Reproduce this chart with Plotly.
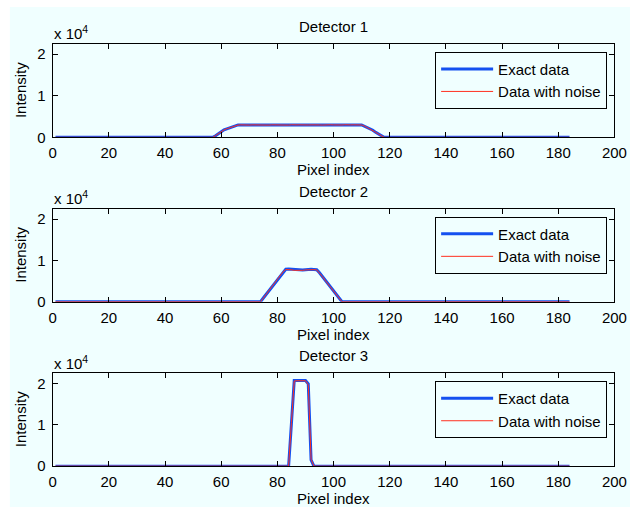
import plotly.graph_objects as go

# ---------------- data ----------------
det1_x_exact = [1, 57, 58, 59, 60, 61, 62, 63, 64, 65, 66, 110, 111, 112, 113, 114, 115, 116, 117, 118, 184]
det1_y_exact = [0, 0, 400, 900, 1400, 1800, 2050, 2300, 2550, 2800, 2980, 2980, 2700, 2400, 2050, 1700, 1200, 800, 350, 0, 0]

det1_x_noise = [1] + list(range(57, 119)) + [184]
det1_y_noise = [0,
                0, 420, 880, 1420, 1780, 2070, 2280, 2570, 2790,
                2950, 3010, 2960, 3020, 2940, 3000, 2970, 3030, 2950, 2990,
                3020, 2940, 3010, 2980, 2930, 3020, 2970, 3000, 2940, 3030,
                2960, 2990, 3010, 2950, 3020, 2970, 3000, 2940, 3030, 2980,
                2950, 3010, 2960, 3020, 2990, 2940, 3010, 2970, 3030, 2960,
                2990, 3010, 2950, 3000, 2970,
                2720, 2380, 2070, 1680, 1220, 780, 370, 0,
                0]

det2_x_exact = [1] + list(range(74, 104)) + [184]
det2_y_exact = [0,
                0, 900, 1800, 2700, 3600, 4500, 5400, 6300, 7200,
                7850, 7900, 7850, 7750, 7650, 7600, 7650, 7750, 7850, 7850, 7800, 7750,
                7000, 6100, 5200, 4300, 3400, 2500, 1600, 700, 0,
                0]
det2_y_noise = [0,
                0, 880, 1830, 2680, 3620, 4470, 5420, 6280, 7230,
                7800, 7850, 7720, 7600, 7550, 7520, 7600, 7700, 7780, 7820, 7760, 7700,
                6980, 6120, 5180, 4320, 3380, 2520, 1580, 720, 0,
                0]

det3_x = [1, 84, 85, 86, 87, 88, 89, 90, 91, 92, 93, 184]
det3_y_exact = [0, 0, 10300, 20700, 20700, 20700, 20700, 20700, 19900, 1500, 0, 0]
det3_y_noise = [0, 0, 10500, 20600, 20650, 20700, 20600, 20650, 19700, 1700, 0, 0]

titles = ["Detector 1", "Detector 2", "Detector 3"]
x_ticks = [0, 20, 40, 60, 80, 100, 120, 140, 160, 180, 200]
y_tickvals = [0, 10000, 20000]
y_ticktext = ["0", "1", "2"]

# ---------------- layout helpers ----------------
W, H = 643, 515
BG = "#F0FFFF"
FONT = "Liberation Sans, Arial, Helvetica, sans-serif"
BLUE = "#1450F0"
RED = "#FF3020"
FS = 15

def px(x):  # pixel -> paper x
    return x / W

def py(y):  # pixel -> paper y
    return 1 - y / H

x_left, x_right = 50, 627
plots = [(44.5, 139.5), (212, 306.5), (379, 473.5)]  # (top, bottom) pixels

series = [
    (det1_x_exact, det1_y_exact, det1_x_noise, det1_y_noise),
    (det2_x_exact, det2_y_exact, det2_x_exact, det2_y_noise),
    (det3_x, det3_y_exact, det3_x, det3_y_noise),
]

fig = go.Figure()
layout = dict(
    width=W, height=H,
    margin=dict(l=0, r=0, t=0, b=0),
    paper_bgcolor="white",
    plot_bgcolor=BG,
    font=dict(family=FONT, size=FS, color="black"),
    showlegend=True,
)

annotations = []
shapes = [dict(type="rect", xref="paper", yref="paper", x0=px(6), x1=1, y0=0, y1=py(7),
               fillcolor=BG, line=dict(width=0), layer="below")]

for i, ((xe, ye, xn, yn), (top, bot)) in enumerate(zip(series, plots)):
    n = i + 1
    sx = "" if n == 1 else str(n)
    leg = "legend" if n == 1 else f"legend{n}"
    fig.add_trace(go.Scatter(x=xe, y=ye, mode="lines", name="Exact data",
                             line=dict(color=BLUE, width=3),
                             xaxis=f"x{sx}", yaxis=f"y{sx}", legend=leg))
    fig.add_trace(go.Scatter(x=xn, y=yn, mode="lines", name="Data with noise",
                             line=dict(color=RED, width=1),
                             xaxis=f"x{sx}", yaxis=f"y{sx}", legend=leg))
    layout[f"xaxis{sx}"] = dict(
        domain=[px(x_left), px(x_right)], anchor=f"y{sx}", range=[0, 200],
        tickvals=x_ticks, ticks="inside", ticklen=5, tickcolor="black",
        showline=True, linecolor="black", linewidth=1, mirror="ticks",
        showgrid=False, zeroline=False, tickfont=dict(size=FS),
        ticklabelstandoff=2,
    )
    layout[f"yaxis{sx}"] = dict(
        domain=[py(bot), py(top)], anchor=f"x{sx}", range=[0, 22500],
        tickvals=y_tickvals, ticktext=y_ticktext, ticks="inside", ticklen=5,
        tickcolor="black", showline=True, linecolor="black", linewidth=1,
        mirror="ticks", showgrid=False, zeroline=False, tickfont=dict(size=FS),
        ticklabelstandoff=3,
    )
    layout[leg] = dict(
        x=px(619.5), xanchor="right", y=py(top + 8), yanchor="top",
        xref="paper", yref="paper",
        bgcolor=BG, bordercolor="black", borderwidth=1,
        font=dict(family=FONT, size=FS, color="black"),
        itemwidth=52, tracegroupgap=0,
    )
    cx = (x_left + x_right) / 2
    annotations.append(dict(text=titles[i], x=px(cx), y=py(top - 17.5), xref="paper", yref="paper",
                            showarrow=False, xanchor="center", yanchor="middle",
                            font=dict(size=FS)))
    annotations.append(dict(text="x 10<sup>4</sup>", x=px(x_left - 1), y=py(top - 11), xref="paper", yref="paper",
                            showarrow=False, xanchor="left", yanchor="middle",
                            font=dict(size=FS)))
    annotations.append(dict(text="Pixel index", x=px(cx), y=py(bot + 33), xref="paper", yref="paper",
                            showarrow=False, xanchor="center", yanchor="middle",
                            font=dict(size=FS)))
    annotations.append(dict(text="Intensity", x=px(17), y=py((top + bot) / 2), xref="paper", yref="paper",
                            showarrow=False, xanchor="center", yanchor="middle", textangle=-90,
                            font=dict(size=FS)))

layout["annotations"] = annotations
layout["shapes"] = shapes
fig.update_layout(**layout)
fig.write_html("out.html",
               config={"displayModeBar": False},
               post_script="document.body.style.margin='0px';document.documentElement.style.overflow='hidden';")
